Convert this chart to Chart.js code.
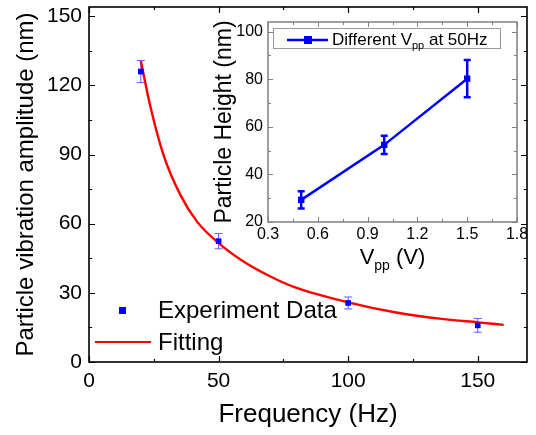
<!DOCTYPE html>
<html>
<head>
<meta charset="utf-8">
<script src="https://cdn.jsdelivr.net/npm/chart.js@4.4.1/dist/chart.umd.min.js"></script>
<style>
  html, body { margin: 0; padding: 0; background: #fff; }
  #wrap { position: relative; width: 536px; height: 435px; }
  #mainChart { position: absolute; left: 0; top: 0; width: 536px; height: 435px; }
  #insetChart { position: absolute; left: 190px; top: 14px; width: 340px; height: 260px; }
</style>
</head>
<body>
<div id="wrap">
  <canvas id="mainChart" width="536" height="435"></canvas>
  <canvas id="insetChart" width="340" height="260"></canvas>
</div>
<script>
// main plot: vibration amplitude vs frequency
const freq = [20, 50, 100, 150];
const amp = [126, 52.4, 25.6, 15.9];
const ampErr = [4.8, 3.3, 2.6, 3.0];

// fitted curve
const fitX = [20, 23.5, 28.7, 35.2, 41.6, 50, 61, 70, 79, 100, 118, 137, 150, 160];
const fitY = [130.6, 111.7, 90, 72.6, 61, 51.6, 42.6, 37.1, 32.6, 25.9, 21.6, 18.6, 17.2, 16.1];

const xTicks = [0, 50, 100, 150];
const xMinor = [25, 75, 125];
const yTicks = [0, 30, 60, 90, 120, 150];
const yMinor = [15, 45, 75, 105, 135];

// inset: particle height vs Vpp at 50Hz
const vpp = [0.5, 1.0, 1.5];
const height = [29.3, 52.4, 80.2];
const heightErr = [3.6, 3.8, 7.8];

const vTicks = [0.3, 0.6, 0.9, 1.2, 1.5, 1.8];
const vMinor = [0.45, 0.75, 1.05, 1.35, 1.65];
const hTicks = [20, 40, 60, 80, 100];
const hMinor = [30, 50, 70, 90];

const FONT = "'Liberation Sans', Arial, sans-serif";
Chart.defaults.font.family = FONT;
Chart.defaults.color = '#000';

const toXY = (xs, ys) => xs.map((x, i) => ({x: x, y: ys[i]}));

// box round the plot with inward ticks on all four sides
const framePlugin = {
  id: 'frame',
  afterDatasetsDraw(chart, args, o) {
    const {ctx, chartArea: a, scales} = chart;
    ctx.save();
    ctx.strokeStyle = o.color;
    ctx.lineWidth = o.width;
    ctx.strokeRect(a.left, a.top, a.right - a.left, a.bottom - a.top);
    ctx.beginPath();
    const xt = (vals, len) => vals.forEach(v => {
      const p = Math.round(scales.x.getPixelForValue(v)) + 0.5;
      ctx.moveTo(p, a.bottom); ctx.lineTo(p, a.bottom - len);
      ctx.moveTo(p, a.top); ctx.lineTo(p, a.top + len);
    });
    const yt = (vals, len) => vals.forEach(v => {
      const p = Math.round(scales.y.getPixelForValue(v)) + 0.5;
      ctx.moveTo(a.left, p); ctx.lineTo(a.left + len, p);
      ctx.moveTo(a.right, p); ctx.lineTo(a.right - len, p);
    });
    xt(o.xMajor, o.major); xt(o.xMinor, o.minor);
    yt(o.yMajor, o.major); yt(o.yMinor, o.minor);
    ctx.lineWidth = o.tickWidth;
    ctx.stroke();
    ctx.restore();
  }
};

// vertical error bars from dataset.errors
const errorBarPlugin = {
  id: 'errorBars',
  beforeDatasetsDraw(chart) {
    const {ctx, scales} = chart;
    chart.data.datasets.forEach((ds, i) => {
      if (!ds.errors) return;
      const meta = chart.getDatasetMeta(i);
      ctx.save();
      ctx.strokeStyle = ds.errorColor;
      ctx.lineWidth = ds.errorWidth;
      ds.data.forEach((d, j) => {
        const x = meta.data[j].x;
        const y1 = scales.y.getPixelForValue(d.y + ds.errors[j]);
        const y2 = scales.y.getPixelForValue(d.y - ds.errors[j]);
        const c = ds.capSize;
        ctx.beginPath();
        ctx.moveTo(x, y1); ctx.lineTo(x, y2);
        ctx.moveTo(x - c, y1); ctx.lineTo(x + c, y1);
        ctx.moveTo(x - c, y2); ctx.lineTo(x + c, y2);
        ctx.stroke();
      });
      ctx.restore();
    });
  }
};

const mainLegend = {
  id: 'mainLegend',
  afterDraw(chart) {
    const ctx = chart.ctx;
    const ds = chart.data.datasets;
    ctx.save();
    ctx.fillStyle = ds[0].backgroundColor;
    ctx.fillRect(119, 307, 7, 7);
    ctx.strokeStyle = ds[1].borderColor;
    ctx.lineWidth = 2;
    ctx.beginPath(); ctx.moveTo(95, 342); ctx.lineTo(151, 342); ctx.stroke();
    ctx.fillStyle = '#000';
    ctx.font = '24px ' + FONT;
    ctx.textBaseline = 'alphabetic';
    ctx.fillText(ds[0].label, 158, 318);
    ctx.fillText(ds[1].label, 158, 350);
    ctx.restore();
  }
};

// fixed axis sizes, no extra room for end labels
const fixV = w => s => { s.width = w; s.paddingTop = 0; s.paddingBottom = 0; };
const fixH = h => s => { s.height = h; s.paddingLeft = 0; s.paddingRight = 0; };

new Chart(document.getElementById('mainChart'), {
  type: 'scatter',
  data: {
    datasets: [
      {
        label: 'Experiment Data',
        data: toXY(freq, amp),
        errors: ampErr,
        errorColor: '#5c5cff',
        errorWidth: 1,
        capSize: 4,
        backgroundColor: '#0000ff',
        borderColor: '#0000ff',
        pointStyle: 'rect',
        pointRadius: 4,
        borderWidth: 0
      },
      {
        label: 'Fitting',
        data: toXY(fitX, fitY),
        showLine: true,
        borderColor: '#ff0000',
        borderWidth: 2.4,
        pointRadius: 0,
        cubicInterpolationMode: 'monotone'
      }
    ]
  },
  options: {
    responsive: false,
    animation: false,
    layout: { padding: { top: 7, right: 9, left: 0, bottom: 0 } },
    plugins: {
      legend: { display: false },
      tooltip: { enabled: false },
      frame: {
        color: '#000', width: 1.6, tickWidth: 1.2, major: 6, minor: 3,
        xMajor: xTicks, xMinor: xMinor, yMajor: yTicks, yMinor: yMinor
      }
    },
    scales: {
      x: {
        type: 'linear', min: 0, max: 169,
        afterFit: fixH(73),
        afterBuildTicks: s => { s.ticks = xTicks.map(v => ({value: v})); },
        grid: { display: false, drawTicks: false },
        border: { display: false },
        ticks: { font: { size: 21 }, padding: 7, maxRotation: 0 },
        title: { display: true, text: 'Frequency (Hz)', font: { size: 26 }, padding: { bottom: 5 } }
      },
      y: {
        type: 'linear', min: 0, max: 154,
        afterFit: fixV(89),
        afterBuildTicks: s => { s.ticks = yTicks.map(v => ({value: v})); },
        grid: { display: false, drawTicks: false },
        border: { display: false },
        ticks: { font: { size: 21 }, padding: 7 },
        title: { display: true, text: 'Particle vibration amplitude (nm)', font: { size: 24 }, padding: { top: 12 } }
      }
    }
  },
  plugins: [framePlugin, errorBarPlugin, mainLegend]
});

// inset legend and x title (with subscript pp)
const insetText = {
  id: 'insetText',
  afterDraw(chart) {
    const ctx = chart.ctx;
    const a = chart.chartArea;
    const ds = chart.data.datasets[0];
    ctx.save();
    // legend box
    ctx.fillStyle = '#fff';
    ctx.fillRect(83.5, 14.5, 227, 20);
    ctx.strokeStyle = '#999';
    ctx.lineWidth = 1;
    ctx.strokeRect(83.5, 14.5, 227, 20);
    ctx.strokeStyle = ds.borderColor;
    ctx.lineWidth = 2.5;
    ctx.beginPath(); ctx.moveTo(97, 26); ctx.lineTo(138, 26); ctx.stroke();
    ctx.fillStyle = ds.borderColor;
    ctx.fillRect(114, 22, 8, 8);
    ctx.fillStyle = '#000';
    ctx.textBaseline = 'alphabetic';
    let x = 142;
    const part = (t, size, base) => {
      ctx.font = size + 'px ' + FONT;
      ctx.fillText(t, x, base);
      x += ctx.measureText(t).width;
    };
    part('Different V', 17, 31);
    part('pp', 11, 35);
    part(' at 50Hz', 17, 31);
    // x title
    ctx.font = '22px ' + FONT;
    const w1 = ctx.measureText('V').width;
    const w3 = ctx.measureText(' (V)').width;
    ctx.font = '14px ' + FONT;
    const w2 = ctx.measureText('pp').width;
    x = (a.left + a.right) / 2 - (w1 + w2 + w3) / 2;
    part('V', 22, 250);
    part('pp', 14, 256);
    part(' (V)', 22, 250);
    ctx.restore();
  }
};

new Chart(document.getElementById('insetChart'), {
  type: 'scatter',
  data: {
    datasets: [
      {
        label: 'Different Vpp at 50Hz',
        data: toXY(vpp, height),
        errors: heightErr,
        errorColor: '#0000ff',
        errorWidth: 2.5,
        capSize: 3.5,
        showLine: true,
        backgroundColor: '#0000ff',
        borderColor: '#0000ff',
        borderWidth: 2.5,
        pointStyle: 'rect',
        pointRadius: 4.5,
        pointBorderWidth: 0
      }
    ]
  },
  options: {
    responsive: false,
    animation: false,
    layout: { padding: { top: 8, right: 13, left: 0, bottom: 0 } },
    plugins: {
      legend: { display: false },
      tooltip: { enabled: false },
      frame: {
        color: '#808080', width: 1.5, tickWidth: 1, major: 5, minor: 3,
        xMajor: vTicks, xMinor: vMinor, yMajor: hTicks, yMinor: hMinor
      }
    },
    scales: {
      x: {
        type: 'linear', min: 0.3, max: 1.8,
        afterFit: fixH(52),
        afterBuildTicks: s => { s.ticks = vTicks.map(v => ({value: v})); },
        grid: { display: false, drawTicks: false },
        border: { display: false },
        ticks: { font: { size: 16 }, padding: 3, maxRotation: 0, callback: v => v.toFixed(1) }
      },
      y: {
        type: 'linear', min: 20, max: 104,
        afterFit: fixV(78),
        afterBuildTicks: s => { s.ticks = hTicks.map(v => ({value: v})); },
        grid: { display: false, drawTicks: false },
        border: { display: false },
        ticks: { font: { size: 16 }, padding: 5 },
        title: { display: true, text: 'Particle Height (nm)', font: { size: 23 }, padding: { top: 21 } }
      }
    }
  },
  plugins: [framePlugin, errorBarPlugin, insetText]
});
</script>
</body>
</html>
